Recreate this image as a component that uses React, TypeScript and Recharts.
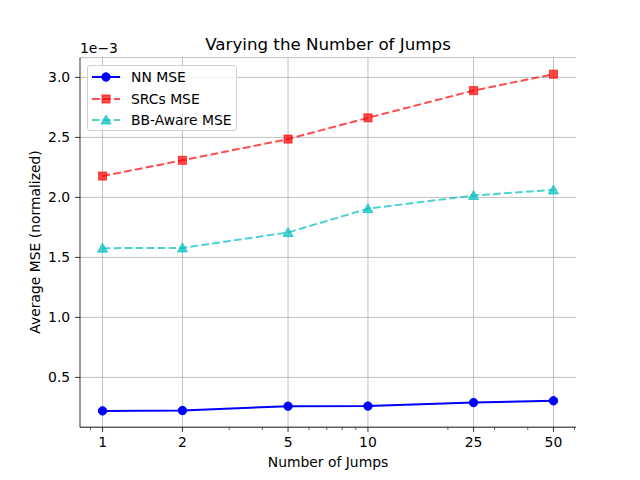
import React from 'react';
import { LineChart, Line, XAxis, YAxis, CartesianGrid, Legend, ReferenceLine } from 'recharts';

const jumps = [1, 2, 5, 10, 25, 50];
const nnMse = [0.221, 0.224, 0.26, 0.261, 0.29, 0.305];
const srcsMse = [2.178, 2.309, 2.486, 2.663, 2.89, 3.027];
const bbAwareMse = [1.577, 1.579, 1.708, 1.906, 2.016, 2.062];

const xTicks = [1, 2, 5, 10, 25, 50];
const xMinorTicks = [0.9, 3, 4, 6, 7, 8, 9, 20, 30, 40, 60];
const yTicks = [0.5, 1.0, 1.5, 2.0, 2.5, 3.0];

const data = jumps.map((j, i) => ({
  jumps: j,
  nn: nnMse[i],
  srcs: srcsMse[i],
  bb: bbAwareMse[i],
}));

const allXTicks = [...xTicks, ...xMinorTicks].sort((a, b) => a - b);

const FONT = '"DejaVu Sans", sans-serif';
const X_DOMAIN: [number, number] = [0.8223, 60.8];
const Y_DOMAIN: [number, number] = [0.085, 3.165];
const TICK_SIZE = 4.9;
const TICK_PAD = 4.9;

const NN_COLOR = '#0000ff';
const SRC_COLOR = '#ff0000';
const BB_COLOR = '#00bfbf';

const CircleDot = (props: any) => {
  const { cx, cy, index } = props;
  return <circle key={`c${index}`} cx={cx} cy={cy} r={4.2} fill={NN_COLOR} stroke={NN_COLOR} strokeWidth={1} />;
};

const SquareDot = (props: any) => {
  const { cx, cy, index } = props;
  return (
    <rect
      key={`s${index}`}
      x={cx - 4}
      y={cy - 4}
      width={8}
      height={8}
      fill={SRC_COLOR}
      fillOpacity={0.7}
      stroke={SRC_COLOR}
      strokeOpacity={0.7}
      strokeWidth={1}
    />
  );
};

const TriangleDot = (props: any) => {
  const { cx, cy, index } = props;
  const r = 5;
  const pts = `${cx},${cy - r} ${cx - r},${cy + r * 0.8} ${cx + r},${cy + r * 0.8}`;
  return (
    <polygon
      key={`t${index}`}
      points={pts}
      fill={BB_COLOR}
      fillOpacity={0.7}
      stroke={BB_COLOR}
      strokeOpacity={0.7}
      strokeWidth={1}
    />
  );
};

// major ticks get a label and a long line, minor ones only a short line
const XTick = (props: any) => {
  const { x, y, payload } = props;
  const axisY = y - TICK_SIZE - TICK_PAD;
  const isMajor = xTicks.includes(payload.value);
  return (
    <g>
      <line
        x1={x}
        x2={x}
        y1={axisY}
        y2={axisY + (isMajor ? TICK_SIZE : 2.8)}
        stroke="#000"
        strokeWidth={isMajor ? 0.8 : 0.6}
      />
      {isMajor && (
        <text x={x} y={y} dy="0.71em" textAnchor="middle" fontFamily={FONT} fontSize={13.9} fill="#000">
          {payload.value}
        </text>
      )}
    </g>
  );
};

const legendItems = [
  { name: 'NN MSE', color: NN_COLOR, dash: undefined, opacity: 1, marker: 'circle' },
  { name: 'SRCs MSE', color: SRC_COLOR, dash: '7.7 3.3', opacity: 0.7, marker: 'square' },
  { name: 'BB-Aware MSE', color: BB_COLOR, dash: '7.7 3.3', opacity: 0.7, marker: 'triangle' },
];

const renderLegend = () => (
  <div
    style={{
      width: 150,
      height: 66,
      border: '1px solid #d0d0d0',
      borderRadius: 3,
      background: 'rgba(255,255,255,0.8)',
      boxSizing: 'border-box',
      fontFamily: FONT,
      fontSize: 13.9,
      color: '#000',
      position: 'relative',
    }}
  >
    {legendItems.map((it, i) => (
      <div key={it.name} style={{ position: 'absolute', left: 0, top: 1 + i * 21.5, height: 20, width: 150 }}>
        <svg width={40} height={20} style={{ position: 'absolute', left: 0, top: 0 }}>
          <line
            x1={4}
            x2={32}
            y1={10}
            y2={10}
            stroke={it.color}
            strokeOpacity={it.opacity}
            strokeWidth={2}
            strokeDasharray={it.dash}
          />
          {it.marker === 'circle' && <CircleDot cx={18} cy={10} index={0} />}
          {it.marker === 'square' && <SquareDot cx={18} cy={10} index={0} />}
          {it.marker === 'triangle' && <TriangleDot cx={18} cy={10} index={0} />}
        </svg>
        <span style={{ position: 'absolute', left: 43, top: 1, lineHeight: '18px', whiteSpace: 'nowrap' }}>
          {it.name}
        </span>
      </div>
    ))}
  </div>
);

const tickStyle = { fontFamily: FONT, fontSize: 13.9, fill: '#000' };

const App = () => {
  return (
    <div style={{ position: 'relative', width: 640, height: 480, margin: -8, background: '#fff', fontFamily: FONT }}>
      <LineChart
        width={640}
        height={480}
        data={data}
        margin={{ top: 57.6, right: 64, bottom: 0, left: 0 }}
      >
        <CartesianGrid stroke="#b0b0b0" strokeWidth={0.8} vertical={false} xAxisId="main" yAxisId="main" />
        {xTicks.map((t) => (
          <ReferenceLine key={t} x={t} xAxisId="main" yAxisId="main" stroke="#b0b0b0" strokeWidth={0.8} />
        ))}
        <XAxis
          xAxisId="main"
          dataKey="jumps"
          type="number"
          scale="log"
          domain={X_DOMAIN}
          allowDataOverflow
          ticks={allXTicks}
          interval={0}
          tickSize={TICK_SIZE}
          tickMargin={TICK_PAD}
          tick={<XTick />}
          tickLine={false}
          axisLine={{ stroke: '#000', strokeWidth: 0.8 }}
          height={52.8}
        />
        <XAxis
          xAxisId="top"
          orientation="top"
          dataKey="jumps"
          type="number"
          scale="log"
          domain={X_DOMAIN}
          allowDataOverflow
          tick={false}
          tickLine={false}
          axisLine={{ stroke: '#000', strokeWidth: 0.8 }}
          height={0}
        />
        <YAxis
          yAxisId="main"
          type="number"
          domain={Y_DOMAIN}
          allowDataOverflow
          ticks={yTicks}
          tickFormatter={(v: number) => v.toFixed(1)}
          tickSize={TICK_SIZE}
          tickMargin={TICK_PAD}
          tick={tickStyle}
          tickLine={{ stroke: '#000', strokeWidth: 0.8 }}
          axisLine={{ stroke: '#000', strokeWidth: 0.8 }}
          width={80}
        />
        <YAxis
          yAxisId="right"
          orientation="right"
          type="number"
          domain={Y_DOMAIN}
          allowDataOverflow
          tick={false}
          tickLine={false}
          axisLine={{ stroke: '#000', strokeWidth: 0.8 }}
          width={0}
        />
        <Legend
          layout="vertical"
          align="center"
          verticalAlign="middle"
          content={renderLegend}
          wrapperStyle={{ position: 'absolute', left: 87, top: 65, width: 150, height: 66 }}
        />
        <Line
          xAxisId="main"
          yAxisId="main"
          dataKey="nn"
          name="NN MSE"
          stroke={NN_COLOR}
          strokeWidth={2}
          dot={CircleDot}
          activeDot={false}
          isAnimationActive={false}
        />
        <Line
          xAxisId="main"
          yAxisId="main"
          dataKey="srcs"
          name="SRCs MSE"
          stroke={SRC_COLOR}
          strokeOpacity={0.7}
          strokeWidth={2}
          strokeDasharray="7.7 3.3"
          dot={SquareDot}
          activeDot={false}
          isAnimationActive={false}
        />
        <Line
          xAxisId="main"
          yAxisId="main"
          dataKey="bb"
          name="BB-Aware MSE"
          stroke={BB_COLOR}
          strokeOpacity={0.7}
          strokeWidth={2}
          strokeDasharray="7.7 3.3"
          dot={TriangleDot}
          activeDot={false}
          isAnimationActive={false}
        />
      </LineChart>
      <div
        style={{
          position: 'absolute',
          left: 328,
          top: 33.5,
          transform: 'translateX(-50%)',
          fontSize: 16.7,
          whiteSpace: 'nowrap',
          color: '#000',
        }}
      >
        Varying the Number of Jumps
      </div>
      <div style={{ position: 'absolute', left: 80, top: 39.5, fontSize: 13.9, color: '#000' }}>1e−3</div>
      <div
        style={{
          position: 'absolute',
          left: 328,
          top: 454,
          transform: 'translateX(-50%)',
          fontSize: 13.9,
          whiteSpace: 'nowrap',
          color: '#000',
        }}
      >
        Number of Jumps
      </div>
      <div
        style={{
          position: 'absolute',
          left: 35,
          top: 242,
          transform: 'translate(-50%, -50%) rotate(-90deg)',
          fontSize: 13.9,
          whiteSpace: 'nowrap',
          color: '#000',
        }}
      >
        Average MSE (normalized)
      </div>
    </div>
  );
};

export default App;
